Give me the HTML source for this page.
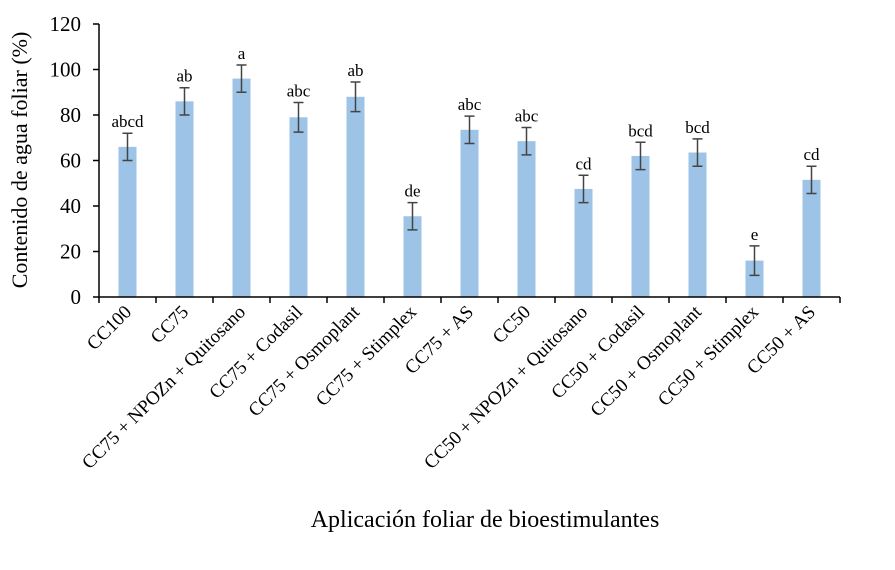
<!DOCTYPE html>
<html><head><meta charset="utf-8"><style>
body{margin:0;background:#fff}
svg{display:block;font-family:"Liberation Serif",serif}
</style></head><body>
<svg id="chart" width="895" height="570">
<text transform="translate(27,160) rotate(-90)" text-anchor="middle" font-size="22">Contenido de agua foliar (%)</text>
<text x="485" y="527" text-anchor="middle" font-size="24">Aplicación foliar de bioestimulantes</text>
<g id="plot"></g>
</svg>
<script>
const categories=["CC100","CC75","CC75 + NPOZn + Quitosano","CC75 + Codasil","CC75 + Osmoplant","CC75 + Stimplex","CC75 + AS","CC50","CC50 + NPOZn + Quitosano","CC50 + Codasil","CC50 + Osmoplant","CC50 + Stimplex","CC50 + AS"];
const values=[66,86,96,79,88,35.5,73.5,68.5,47.5,62,63.5,16,51.5];
const errors=[6,6,6,6.5,6.5,6,6,6,6,6,6,6.5,6];
const letters=["abcd","ab","a","abc","ab","de","abc","abc","cd","bcd","bcd","e","cd"];
const yTicks=[0,20,40,60,80,100,120];
const NS="http://www.w3.org/2000/svg";
const g=document.getElementById("plot");
const x0=99,x1=840,yb=297,yt=24,ymax=120;
const step=(x1-x0)/categories.length;
const Y=v=>yb-(v/ymax)*(yb-yt);
const X=i=>x0+step*(i+0.5);
function mk(t,a){const e=document.createElementNS(NS,t);for(const k in a)e.setAttribute(k,a[k]);g.appendChild(e);return e;}
values.forEach((v,i)=>{
 const r=mk("rect",{x:X(i)-9,y:Y(v),width:18,height:yb-Y(v),fill:"#9dc3e6"});
 
 
 const hi=Y(v+errors[i]),lo=Y(v-errors[i]);
 const eb=mk("path",{d:`M${X(i)},${hi}V${lo}M${X(i)-5},${hi}H${X(i)+5}M${X(i)-5},${lo}H${X(i)+5}`,stroke:"#444",fill:"none","stroke-width":1.5});
 
 
 const t=mk("text",{x:X(i),y:hi-6,"text-anchor":"middle","font-size":17});
 t.textContent=letters[i];
 
 
 const c=mk("text",{transform:`translate(${X(i)+5},${yb+16}) rotate(-45)`,"text-anchor":"end","font-size":19});
 c.textContent=categories[i];
 
 
});
for(let i=0;i<=categories.length;i++){
 const tk=mk("line",{x1:x0+step*i,x2:x0+step*i,y1:yb,y2:yb+6,stroke:"#000","stroke-width":1.5});
 
 
}
yTicks.forEach(v=>{
 const tk=mk("line",{x1:x0-6,x2:x0,y1:Y(v),y2:Y(v),stroke:"#000","stroke-width":1.5});
 
 
 const t=mk("text",{x:x0-18,y:Y(v)+7,"text-anchor":"end","font-size":21});
 t.textContent=v;
 
 
});
const ya=mk("line",{x1:x0,x2:x0,y1:yt,y2:yb,stroke:"#000","stroke-width":1.5});


const xa=mk("line",{x1:x0,x2:x1,y1:yb,y2:yb,stroke:"#000","stroke-width":1.5});


</script>
</body></html>
